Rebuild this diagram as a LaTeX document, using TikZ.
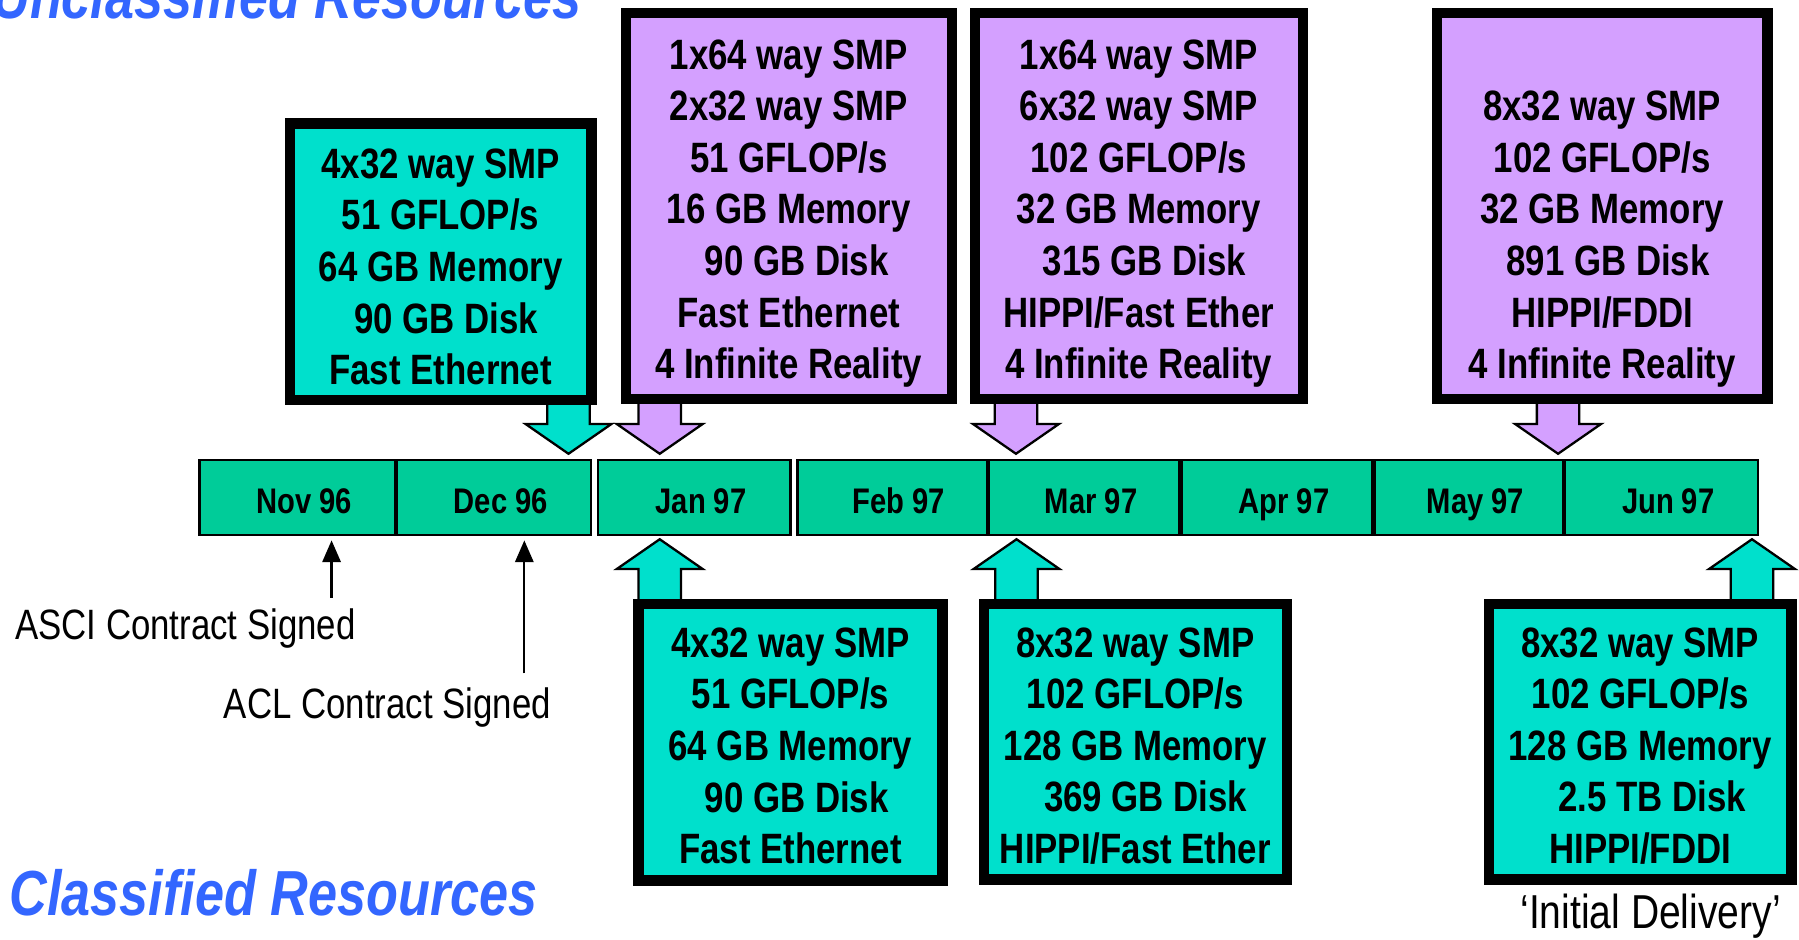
\documentclass[tikz,border=0pt]{standalone}
\usepackage{fontspec}
\usetikzlibrary{arrows.meta,calc}
\newfontfamily\narrowfont[FakeStretch=0.82]{Liberation Sans}
\definecolor{tealc}{RGB}{0,224,204}
\definecolor{purpc}{RGB}{212,160,255}
\definecolor{barc}{RGB}{0,204,153}
\definecolor{bluec}{RGB}{51,102,255}
\newcommand\boxfont{\narrowfont\bfseries\fontsize{37}{45}\selectfont}
\newcommand\segfont{\narrowfont\bfseries\fontsize{31}{36}\selectfont}
\newcommand\lblfont{\narrowfont\fontsize{37}{44}\selectfont}
\newcommand\ttlfont{\narrowfont\bfseries\itshape\fontsize{55.5}{64}\selectfont}
\newcommand\fstrut[1]{\rule{0pt}{#1}}
\newcommand\blockarr[4]{\draw[barrow,fill=#1] (#2) -- ++({37.5},{#3*26}) -- ++(-19,0) -- ++({0},{#3*#4}) -- ++(-37,0) -- ++({0},{-1*(#3)*#4}) -- ++(-19,0) -- cycle;}
\tikzset{
 mbox/.style={draw=black, line width=9pt, inner sep=0pt, align=center, font=\boxfont},
 tealbox/.style={mbox, fill=tealc},
 purpbox/.style={mbox, fill=purpc},
 seg/.style={draw=black, line width=2pt, fill=barc, inner sep=0pt, minimum height=65pt, text height=28.5pt, text depth=0pt, font=\segfont, execute at begin node={\hspace*{12pt}}},
 barrow/.style={draw=black, line width=2pt, line join=miter},
 thinarr/.style={line width=2pt, -{Triangle[width=16pt,length=19pt]}},
 lbl/.style={font=\lblfont, inner sep=0pt},
 ttl/.style={font=\ttlfont, text=bluec, inner sep=0pt},
}
\begin{document}
\begin{tikzpicture}[x=1pt,y=-1pt]
\useasboundingbox (0,0) rectangle (1568,819);
\clip (0,0) rectangle (1568,819);
% titles
\node[ttl, anchor=base east] (uncl) at (507,16) {Unclassified Resources};
\node[ttl, anchor=base west] (cl) at (8,797.5) {Classified Resources};
% arrow tips
\coordinate (da1) at (495.5,395.5);
\coordinate (da2) at (575,395.5);
\coordinate (da3) at (885.5,395.5);
\coordinate (da4) at (1358,395.5);
\coordinate (ua1) at (575,470);
\coordinate (ua2) at (886,470);
\coordinate (ua3) at (1527,470);
% block arrows
\blockarr{tealc}{da1}{-1}{30}
\blockarr{purpc}{da2}{-1}{30}
\blockarr{purpc}{da3}{-1}{30}
\blockarr{purpc}{da4}{-1}{30}
\blockarr{tealc}{ua1}{1}{34}
\blockarr{tealc}{ua2}{1}{34}
\blockarr{tealc}{ua3}{1}{34}
% top boxes
\node[tealbox, minimum width=263pt, minimum height=241pt] (t1) at (384,228)
 {\fstrut{35pt}4x32 way SMP\\51 GFLOP/s\\64 GB Memory\\\hspace*{10pt}90 GB Disk\\Fast Ethernet};
\node[purpbox, minimum width=284pt, minimum height=336pt] (t2) at (687.5,179.5)
 {\fstrut{39pt}1x64 way SMP\\2x32 way SMP\\51 GFLOP/s\\16 GB Memory\\\hspace*{14pt}90 GB Disk\\Fast Ethernet\\4 Infinite Reality};
\node[purpbox, minimum width=286pt, minimum height=336pt] (t3) at (992.5,179.5)
 {\fstrut{39pt}1x64 way SMP\\6x32 way SMP\\102 GFLOP/s\\32 GB Memory\\\hspace*{10pt}315 GB Disk\\HIPPI/Fast Ether\\4 Infinite Reality};
\node[purpbox, minimum width=288pt, minimum height=336pt] (t4) at (1396.5,179.5)
 {\fstrut{39pt}\\8x32 way SMP\\102 GFLOP/s\\32 GB Memory\\\hspace*{10pt}891 GB Disk\\HIPPI/FDDI\\4 Infinite Reality};
% bottom boxes
\node[tealbox, minimum width=265pt, minimum height=241pt] (b1) at (689,647)
 {\fstrut{32pt}4x32 way SMP\\51 GFLOP/s\\64 GB Memory\\\hspace*{11pt}90 GB Disk\\Fast Ethernet};
\node[tealbox, minimum width=264pt, minimum height=240pt] (b2) at (989.5,646.5)
 {\fstrut{33pt}8x32 way SMP\\102 GFLOP/s\\128 GB Memory\\\hspace*{18pt}369 GB Disk\\HIPPI/Fast Ether};
\node[tealbox, minimum width=264pt, minimum height=240pt] (b3) at (1429.5,646.5)
 {\fstrut{33pt}8x32 way SMP\\102 GFLOP/s\\128 GB Memory\\\hspace*{21pt}2.5 TB Disk\\HIPPI/FDDI};
% timeline
\node[seg, minimum width=170pt] (nov) at (259,433.5) {Nov 96};
\node[seg, minimum width=169pt] (dec) at (430.5,433.5) {Dec 96};
\node[seg, minimum width=168pt] (jan) at (605,433.5) {Jan 97};
\node[seg, minimum width=165pt] (feb) at (777.5,433.5) {Feb 97};
\node[seg, minimum width=166pt] (mar) at (945,433.5) {Mar 97};
\node[seg, minimum width=166pt] (apr) at (1113,433.5) {Apr 97};
\node[seg, minimum width=164pt] (may) at (1280,433.5) {May 97};
\node[seg, minimum width=168pt] (jun) at (1448,433.5) {Jun 97};
% labels
\node[lbl, anchor=base west] (asci) at (13,557) {ASCI Contract Signed};
\node[lbl, anchor=base west] (acl) at (195,626) {ACL Contract Signed};
\node[lbl, font=\narrowfont\fontsize{41.5}{48}\selectfont, anchor=base west] (init) at (1325,809) {‘Initial Delivery’};
\coordinate (asciS) at (289,521);
\coordinate (asciT) at (289,471);
\coordinate (aclS) at (457,587);
\coordinate (aclT) at (457,471);
\draw[thinarr] (asciS) -- (asciT);
\draw[thinarr] (aclS) -- (aclT);
\end{tikzpicture}
\end{document}
